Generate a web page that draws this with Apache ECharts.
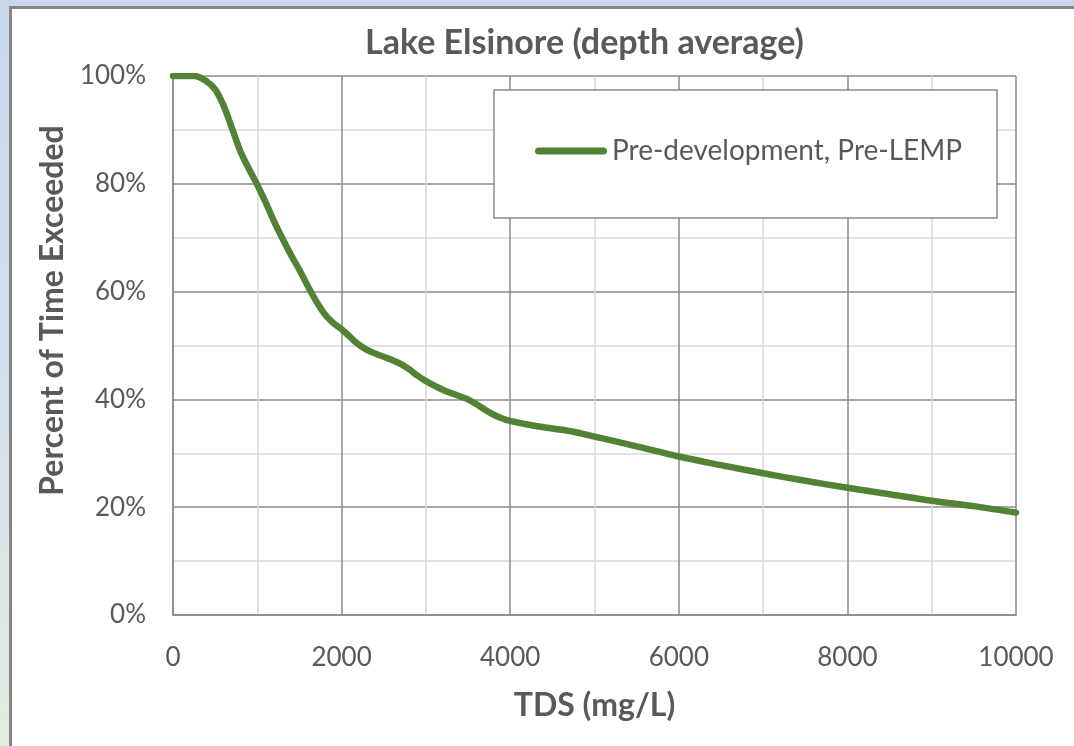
<!DOCTYPE html>
<html>
<head>
<meta charset="utf-8">
<script src="https://cdn.jsdelivr.net/npm/echarts@6/dist/echarts.min.js"></script>
<style>
  html, body { margin: 0; padding: 0; width: 1074px; height: 746px; overflow: hidden; }
  body { background: linear-gradient(180deg, #c9d8ea 0%, #d3dfec 50%, #e3ebdf 100%); position: relative; }
  #frame { position: absolute; left: 9px; top: 6px; width: 1080px; height: 760px; background: #ffffff;
           border-left: 3px solid #858585; border-top: 3px solid #858585; }
  #chart { position: absolute; left: 0; top: 0; width: 1074px; height: 746px; }
</style>
</head>
<body>
<div id="frame"></div>
<div id="chart"></div>
<script>
const chartTitle = 'Lake Elsinore (depth average)';
const seriesName = 'Pre-development, Pre-LEMP';
const xAxisTitle = 'TDS (mg/L)';
const yAxisTitle = 'Percent of Time Exceeded';
const tds = [0,250,400,500,600,700,800,900,1000,1100,1200,1300,1400,1500,1600,1700,1800,1900,2000,2100,2200,2300,2400,2500,2600,2700,2800,2900,3000,3200,3400,3500,3600,3700,3800,3900,4000,4250,4500,4750,5000,5500,6000,6500,7000,7500,8000,8500,9000,9500,10000];
const pctExceeded = [100,100,99,97.5,94.5,90.3,86,82.8,79.8,76.5,73,69.8,66.8,64,61,58.2,55.8,54.2,53,51.6,50.2,49.2,48.5,47.9,47.3,46.6,45.6,44.4,43.4,41.8,40.6,40,39.1,38.1,37.2,36.5,36,35.2,34.6,34,33.1,31.3,29.4,27.8,26.3,24.9,23.6,22.4,21.2,20.2,19];
const xTicks = { min: 0, max: 10000, interval: 2000 };
const yTicks = { min: 0, max: 100, interval: 20 };

const FONT = 'Lato';
const TXT = '#595959';
const MAJOR = '#8a8a8a';
const MINOR = '#d9d9d9';
const GREEN = '#548235';

const chart = echarts.init(document.getElementById('chart'), null, { renderer: 'canvas' });
chart.setOption({
  animation: false,
  backgroundColor: 'transparent',
  title: {
    text: chartTitle,
    left: 365, top: 26,
    padding: 0,
    textStyle: { fontFamily: FONT, fontWeight: 'bold', fontSize: 34, color: TXT }
  },
  legend: {
    left: 494, top: 90,
    padding: [47, 35, 53, 41],
    backgroundColor: '#ffffff',
    borderColor: MAJOR, borderWidth: 1.5,
    itemWidth: 72, itemHeight: 7,
    icon: 'path://M3.5,0 L68.5,0 A3.5,3.5 0 0 1 68.5,7 L3.5,7 A3.5,3.5 0 0 1 3.5,0 Z',
    textStyle: { fontFamily: FONT, fontSize: 28, color: TXT },
    data: [seriesName]
  },
  grid: { left: 173, top: 76, right: 58, bottom: 131, containLabel: false, show: false },
  xAxis: {
    type: 'value', min: xTicks.min, max: xTicks.max, interval: xTicks.interval,
    name: xAxisTitle, nameLocation: 'middle', nameGap: 75,
    nameTextStyle: { fontFamily: FONT, fontWeight: 'bold', fontSize: 32, color: TXT },
    axisLine: { show: true, lineStyle: { color: MAJOR, width: 1.5 } },
    axisTick: { show: false },
    axisLabel: { margin: 30, fontFamily: FONT, fontSize: 26, color: TXT, formatter: (v) => String(v) },
    splitLine: { show: true, lineStyle: { color: MAJOR, width: 1.5 } },
    minorTick: { show: false, splitNumber: 2 },
    minorSplitLine: { show: true, lineStyle: { color: MINOR, width: 1.5 } }
  },
  yAxis: {
    type: 'value', min: yTicks.min, max: yTicks.max, interval: yTicks.interval,
    name: yAxisTitle, nameLocation: 'middle', nameGap: 95,
    nameTextStyle: { fontFamily: FONT, fontWeight: 'bold', fontSize: 32, color: TXT, padding: [0, 0, 0, 70] },
    axisLine: { show: true, lineStyle: { color: MAJOR, width: 1.5 } },
    axisTick: { show: false },
    axisLabel: { margin: 27, fontFamily: FONT, fontSize: 26, color: TXT, formatter: '{value}%' },
    splitLine: { show: true, lineStyle: { color: MAJOR, width: 1.5 } },
    minorTick: { show: false, splitNumber: 2 },
    minorSplitLine: { show: true, lineStyle: { color: MINOR, width: 1.5 } }
  },
  series: [{
    name: seriesName,
    type: 'line',
    data: tds.map((x, i) => [x, pctExceeded[i]]),
    smooth: 0.35,
    symbol: 'none',
    lineStyle: { color: GREEN, width: 6.5, cap: 'round', join: 'round' },
    itemStyle: { color: GREEN },
    z: 3
  }]
});
</script>
</body>
</html>
